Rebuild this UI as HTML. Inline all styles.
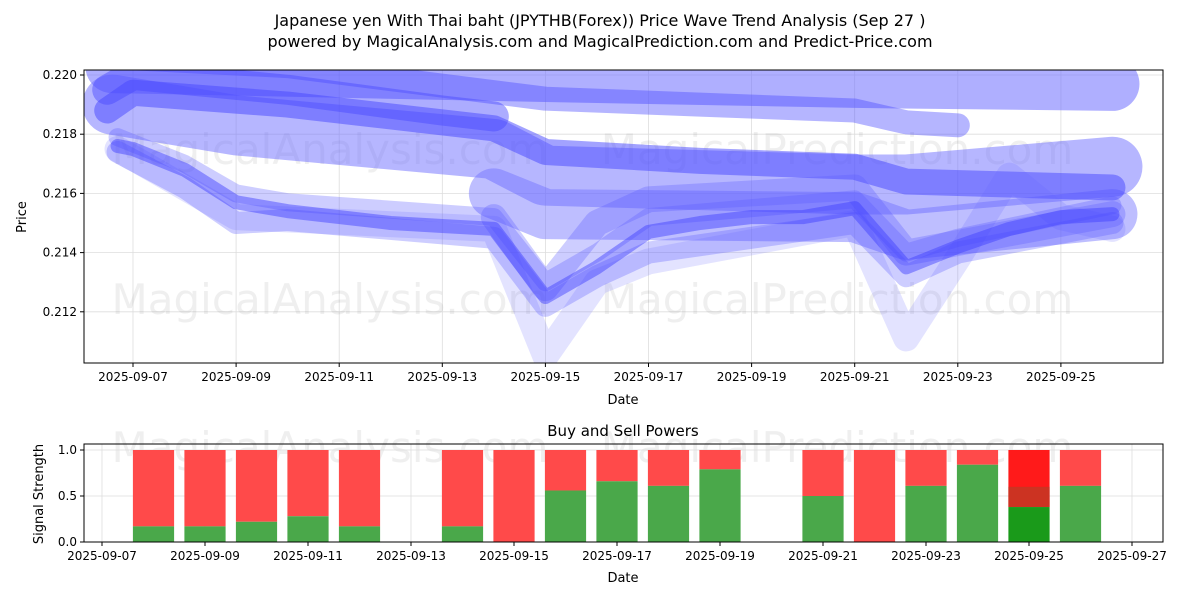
<!DOCTYPE html>
<html><head><meta charset="utf-8"><style>
body{margin:0;background:#fff;font-family:"Liberation Sans","DejaVu Sans",sans-serif}
svg text{font-family:"DejaVu Sans","Liberation Sans",sans-serif}
</style></head><body>
<svg id="c" width="1200" height="600" xmlns="http://www.w3.org/2000/svg">
<rect width="1200" height="600" fill="#fff"/>
<text x="600" y="26" text-anchor="middle" font-size="16">Japanese yen With Thai baht (JPYTHB(Forex)) Price Wave Trend Analysis (Sep 27 )</text>
<text x="600" y="47" text-anchor="middle" font-size="16">powered by MagicalAnalysis.com and MagicalPrediction.com and Predict-Price.com</text>
<defs><clipPath id="cp"><rect x="84" y="70" width="1079" height="293"/></clipPath></defs>
<g id="topG"></g><g id="botG"></g>
</svg>
<script>
// ---- data ----
const bandLight1=[[6.6,0.2203],[15,0.2200],[21,0.2198],[26,0.2197]];
const bandLight2=[[6.6,0.2190],[9,0.2183],[14,0.2175],[15,0.2166],[21,0.2163],[22,0.2163],[26,0.2169]];
const bandLight3=[[14,0.2160],[15,0.2153],[21,0.2152],[22,0.2146],[26,0.2153]];
const bandDark1=[[6.5,0.2188],[7,0.2194],[10,0.2190],[14,0.2182],[15,0.2174],[18,0.2171],[21,0.2169],[22,0.2164],[26,0.2162]];
const bandDark3=[[6.5,0.2195],[7,0.2200],[10,0.2195],[13,0.2188],[14,0.2186]];
const bandDark2=[[6.6,0.2206],[10,0.2203],[15,0.2192],[18,0.2190],[21,0.2188],[22,0.2184],[23,0.2183]];
const mainLine=[[6.7,0.2176],[7,0.2175],[8,0.2168],[9,0.2157],[10,0.2154],[11,0.2152],[12,0.2150],[13,0.2149],[14,0.2148],[15,0.2125],[16,0.2135],[17,0.2147],[18,0.2150],[19,0.2152],[20,0.2152],[21,0.2155],[22,0.2135],[23,0.2142],[24,0.2148],[25,0.2152],[26,0.2153]];
const clusterB=[[6.7,0.2179],[8,0.2170],[9,0.2160],[10,0.2157],[14,0.2152],[15,0.2130],[16,0.2140],[17,0.2152],[21,0.2158],[22,0.2140],[23,0.2145],[26,0.2156]];
const clusterC=[[6.7,0.2174],[8,0.2162],[9,0.2150],[10,0.2151],[14,0.2145],[15,0.2122],[16,0.2132],[17,0.2140],[21,0.2150],[22,0.2132],[23,0.2140],[26,0.2150]];
const clusterSpike=[[6.7,0.2175],[9,0.2152],[14,0.2148],[15,0.2105],[16,0.2130],[17,0.2137],[21,0.2150],[22,0.2111],[23,0.2138],[24,0.2166],[25,0.2152],[26,0.2148]];
const clusterD=[[14,0.2152],[15,0.2128],[16,0.2150],[17,0.2158],[21,0.2162],[22,0.2140],[26,0.2153]];
const yTicks=[0.212,0.214,0.216,0.218,0.220];
const xTickDays=[7,9,11,13,15,17,19,21,23,25];
const barDays=[8,9,10,11,12,14,15,16,17,18,19,21,22,23,24,25,26];
const buyPower=[0.17,0.17,0.22,0.28,0.17,0.17,0,0.56,0.66,0.61,0.79,0.5,0,0.61,0.84,0.38,0.61];
const botXTickDays=[7,9,11,13,15,17,19,21,23,25,27];
const botYTicks=[0,0.5,1.0];
// ---- scales ----
const X=d=>133+(d-7)*51.55, Y=v=>75+(0.220-v)*29600;
const BX=d=>102+(d-7)*51.5, BY=v=>542-v*92;
const NS="http://www.w3.org/2000/svg";
function mk(p,t,a,txt){const e=document.createElementNS(NS,t);for(const k in a)e.setAttribute(k,a[k]);if(txt!==undefined)e.textContent=txt;p.appendChild(e);return e;}
const topG=document.getElementById('topG'), botG=document.getElementById('botG');
const L=84,R=1163,T=70,B=363;
yTicks.forEach(v=>{const g=mk(topG,'g',{});


mk(g,'line',{x1:L,x2:R,y1:Y(v),y2:Y(v),stroke:'#ddd','stroke-width':0.8});mk(g,'line',{x1:L-4,x2:L,y1:Y(v),y2:Y(v),stroke:'#000'});mk(g,'text',{x:L-7,y:Y(v)+4,'text-anchor':'end','font-size':12},v.toFixed(3));});
xTickDays.forEach(d=>{const g=mk(topG,'g',{});


mk(g,'line',{x1:X(d),x2:X(d),y1:T,y2:B,stroke:'#ddd','stroke-width':0.8});mk(g,'line',{x1:X(d),x2:X(d),y1:B,y2:B+4,stroke:'#000'});mk(g,'text',{x:X(d),y:B+18,'text-anchor':'middle','font-size':12},'2025-09-'+String(d).padStart(2,'0'));});
const wm=[[330,150,'MagicalAnalysis.com'],[837,150,'MagicalPrediction.com'],[330,300,'MagicalAnalysis.com'],[837,300,'MagicalPrediction.com'],[330,448,'MagicalAnalysis.com'],[837,448,'MagicalPrediction.com']];
wm.forEach(w=>{const t=mk(topG,'text',{x:w[0],y:w[1]+14,'text-anchor':'middle','font-size':42,fill:'rgba(120,120,120,0.12)'},w[2]);

});
const lg=mk(topG,'g',{'clip-path':'url(#cp)'});
function band(data,col,w,name){const p=mk(lg,'polyline',{points:data.map(q=>X(q[0])+','+Y(q[1])).join(' '),fill:'none',stroke:col,'stroke-width':w,'stroke-linecap':'round','stroke-linejoin':'round'});

}
band(bandLight1,'rgba(110,110,255,0.55)',54,'wave-band-upper');
band(bandLight2,'rgba(110,110,255,0.5)',60,'wave-band-middle');
band(bandLight3,'rgba(110,110,255,0.45)',50,'wave-band-lower');
band(bandDark2,'rgba(70,70,255,0.4)',24,'wave-band-dark-upper');
band(bandDark3,'rgba(70,70,255,0.45)',30,'wave-band-dark-left');
band(bandDark1,'rgba(70,70,255,0.5)',26,'wave-band-dark');
band(clusterSpike,'rgba(100,100,255,0.18)',26,'wave-spike');
band(clusterC,'rgba(90,90,255,0.3)',22,'wave-lower');
band(clusterD,'rgba(90,90,255,0.3)',26,'wave-alt');
band(clusterB,'rgba(90,90,255,0.3)',18,'wave-upper');
band(mainLine,'rgba(60,60,255,0.45)',14,'wave-main');
mk(topG,'rect',{x:L,y:T,width:R-L,height:B-T,fill:'none',stroke:'#000','stroke-width':1});
mk(topG,'text',{x:623,y:404,'text-anchor':'middle','font-size':13},'Date');
mk(topG,'text',{x:26,y:217,'text-anchor':'middle','font-size':13,transform:'rotate(-90 26 217)'},'Price');
const bL=84,bR=1163,bT=444,bB=542;
mk(botG,'text',{x:623,y:436,'text-anchor':'middle','font-size':15},'Buy and Sell Powers');
botYTicks.forEach(v=>{mk(botG,'line',{x1:bL,x2:bR,y1:BY(v),y2:BY(v),stroke:'#ddd','stroke-width':0.8});mk(botG,'line',{x1:bL-4,x2:bL,y1:BY(v),y2:BY(v),stroke:'#000'});mk(botG,'text',{x:bL-7,y:BY(v)+4,'text-anchor':'end','font-size':12},v.toFixed(1));});
botXTickDays.forEach(d=>{mk(botG,'line',{x1:BX(d),x2:BX(d),y1:bT,y2:bB,stroke:'#ddd','stroke-width':0.8});mk(botG,'line',{x1:BX(d),x2:BX(d),y1:bB,y2:bB+4,stroke:'#000'});mk(botG,'text',{x:BX(d),y:bB+18,'text-anchor':'middle','font-size':12},'2025-09-'+String(d).padStart(2,'0'));});
barDays.forEach((d,i)=>{const b=buyPower[i],x=BX(d)-20.6,w=41.2;
const s=mk(botG,'rect',{x:x,y:BY(1),width:w,height:BY(b)-BY(1),fill:d===25?'#ff1a1a':'#ff4a4a'});


if(d===25){mk(botG,'rect',{x:x,y:BY(0.6),width:w,height:BY(b)-BY(0.6),fill:'#cc3322'});}
const g=mk(botG,'rect',{x:x,y:BY(b),width:w,height:BY(0)-BY(b),fill:d===25?'#1a9a1a':'#4aa84a'});

});
mk(botG,'rect',{x:bL,y:bT,width:bR-bL,height:bB-bT,fill:'none',stroke:'#000','stroke-width':1});
mk(botG,'text',{x:623,y:582,'text-anchor':'middle','font-size':13},'Date');
mk(botG,'text',{x:43,y:494,'text-anchor':'middle','font-size':13,transform:'rotate(-90 43 494)'},'Signal Strength');
</script>
</body></html>
